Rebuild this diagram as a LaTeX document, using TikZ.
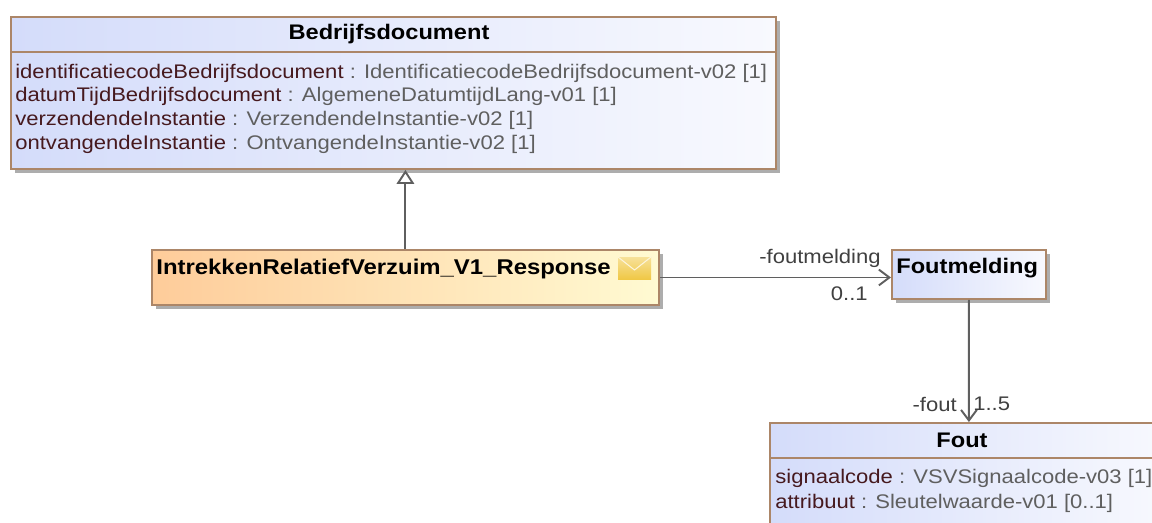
\documentclass[tikz,border=0pt]{standalone}
\usepackage{fontspec}
\setmainfont[FakeStretch=1.12]{Liberation Sans}
\usepackage{xcolor}
\usetikzlibrary{arrows.meta,shadows}
\definecolor{rim}{RGB}{172,134,104}
\definecolor{wire}{RGB}{95,95,95}
\definecolor{attrname}{RGB}{70,25,30}
\definecolor{attrtype}{RGB}{95,95,95}
\definecolor{classblue}{RGB}{212,220,250}
\definecolor{classwhite}{RGB}{248,249,254}
\definecolor{msgorange}{RGB}{254,204,154}
\definecolor{msgyellow}{RGB}{255,250,210}
\definecolor{mailgold}{RGB}{240,200,70}
\tikzset{
    classbox/.style={draw=rim,line width=1.1pt,anchor=north west,inner sep=0pt,
        left color=classblue,right color=classwhite,
        drop shadow={shadow xshift=2.4pt,shadow yshift=-2.4pt,fill=black!40,opacity=0.8}},
    msgbox/.style={classbox,left color=msgorange,right color=msgyellow},
    titletext/.style={font=\fontsize{12}{14}\selectfont\bfseries,inner sep=0pt},
    attrline/.style={font=\fontsize{11.2}{13}\selectfont,anchor=west,inner sep=0pt,text=attrtype},
    rolelabel/.style={font=\fontsize{11.2}{13}\selectfont,inner sep=0pt,text=black!75},
    link/.style={draw=wire,line width=1.1pt},
}
\newcommand{\attrname}[1]{\textcolor{attrname}{#1}}
\begin{document}
\begin{tikzpicture}[x=0.02cm,y=-0.02cm]
    \useasboundingbox (0,0) rectangle (1152,522);
    \clip (0,0) rectangle (1152,522);

    % Boxes
    \node[classbox,minimum width=15.3cm,minimum height=3.04cm] (doc) at (10,16) {};
    \node[msgbox,minimum width=10.14cm,minimum height=1.1cm] (resp) at (151,249) {};
    \node[classbox,minimum width=3.08cm,minimum height=0.98cm] (foutm) at (891,249) {};
    \node[classbox,minimum width=7.96cm,minimum height=2.2cm] (fout) at (769,422) {};

    % Compartment lines
    \draw[rim,line width=1.1pt] (doc.west |- 0,52) -- (doc.east |- 0,52);
    \draw[rim,line width=1.1pt] (fout.west |- 0,458) -- (fout.east |- 0,458);

    % Titles
    \node[titletext] (doctitle) at (389,34) {Bedrijfsdocument};
    \node[titletext,anchor=west,font=\fontsize{12.15}{14}\selectfont\bfseries] (resptitle) at (156,269) {IntrekkenRelatiefVerzuim\_V1\_Response};
    \node[titletext,anchor=west] (foutmtitle) at (896,268) {Foutmelding};
    \node[titletext] (fouttitle) at (962,440) {Fout};

    % Attributes
    \node[attrline] (attra) at (15,73) {\attrname{identificatiecodeBedrijfsdocument} : IdentificatiecodeBedrijfsdocument-v02 [1]};
    \node[attrline] (attrb) at (15,96) {\attrname{datumTijdBedrijfsdocument} : AlgemeneDatumtijdLang-v01 [1]};
    \node[attrline] (attrc) at (15,120) {\attrname{verzendendeInstantie} : VerzendendeInstantie-v02 [1]};
    \node[attrline] (attrd) at (15,144) {\attrname{ontvangendeInstantie} : OntvangendeInstantie-v02 [1]};
    \node[attrline] (attre) at (775,478) {\attrname{signaalcode} : VSVSignaalcode-v03 [1]};
    \node[attrline] (attrf) at (775,503) {\attrname{attribuut} : Sleutelwaarde-v01 [0..1]};

    % Envelope
    \shade[top color=mailgold!55!white,bottom color=mailgold] (618,257) rectangle (651,279);
    \draw[white!80!mailgold,line width=0.6pt] (618,257) -- (634.5,270) -- (651,257);

    % Connectors
    \draw[link,-{Triangle[open,fill=white,length=8pt,width=10pt]}] (resp.north) -- (resp.north |- doc.south);
    \draw[link,-{Straight Barb[length=6pt,width=9pt]}] (resp.east) -- (resp.east -| foutm.west);
    \draw[link,-{Straight Barb[length=6pt,width=9pt]}] (foutm.south) -- (fout.north);

    % Connector labels
    \node[rolelabel,anchor=east] (rolea) at (881,258) {-foutmelding};
    \node[rolelabel,anchor=east] (multa) at (868,294) {0..1};
    \node[rolelabel,anchor=east] (roleb) at (957,404) {-fout};
    \node[rolelabel,anchor=west] (multb) at (973,404) {1..5};
\end{tikzpicture}
\end{document}
